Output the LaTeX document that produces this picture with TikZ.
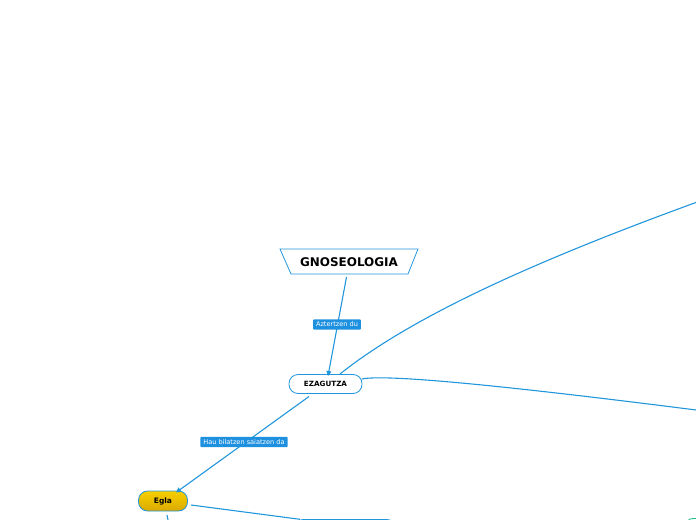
\documentclass[tikz,border=0pt]{standalone}
\usepackage{fontspec}
\setmainfont{DejaVu Sans}
\usetikzlibrary{arrows.meta,shapes.geometric}
\definecolor{lineblue}{HTML}{2196DC}
\definecolor{labelblue}{HTML}{1E90E0}
\definecolor{goldA}{HTML}{F7D000}
\definecolor{goldB}{HTML}{D9A900}
\tikzset{
  conn/.style={draw=lineblue, line width=1.1bp},
  tip/.style={-{Triangle[length=5bp,width=5bp]}},
  lbl/.style={fill=labelblue, text=white, font=\fontsize{6.6}{7}\selectfont, inner xsep=3bp, inner ysep=2.5bp, rounded corners=0.8bp},
  topic/.style={draw=lineblue, fill=white, rounded corners=9bp, line width=0.8bp, font=\bfseries\fontsize{7.2}{8}\selectfont, minimum width=73bp, minimum height=19bp, inner sep=0},
}
\begin{document}
\begin{tikzpicture}[x=1bp,y=-1bp]
\useasboundingbox (0,0) rectangle (696,520);
\clip (0,0) rectangle (696,520);
% root trapezoid
\draw[draw=lineblue, fill=white, line width=0.8bp] (280,249) -- (418,249) -- (408,274) -- (291,274) -- cycle;
\node[font=\bfseries\fontsize{12}{14}\selectfont] (root) at (349,262) {GNOSEOLOGIA};
\coordinate (rootb) at (346.5,277);
% EZAGUTZA
\node[topic] (ez) at (325.5,384) {EZAGUTZA};
\coordinate (ezin) at (328,376);
\coordinate (ezt) at (340,374);
\coordinate (ezr) at (362,379);
\coordinate (ezb) at (309,396.5);
% Egla
\node[draw=lineblue, line width=0.8bp, rounded corners=9bp, top color=goldA, bottom color=goldB, minimum width=49bp, minimum height=20bp, inner sep=0, font=\bfseries\fontsize{7.5}{8}\selectfont] (egla) at (163,501) {Egla};
\coordinate (eglain) at (176,492.5);
\coordinate (eglar) at (191,505);
\coordinate (eglab) at (167,515);
% cut-off nodes at bottom
\node[draw=lineblue, fill=white, rounded corners=8bp, line width=0.8bp, minimum width=100bp, minimum height=20bp] (b1) at (345,529.5) {};
\coordinate (b1in) at (300,519.3);
\node[draw=lineblue!60!green, fill=white, rounded corners=8bp, line width=0.8bp, minimum width=60bp, minimum height=20bp] (b2) at (715,528.5) {};
\node[draw=lineblue, fill=white, rounded corners=8bp, line width=0.8bp, minimum width=50bp, minimum height=20bp] (b3) at (170,540) {};
% off-canvas endpoints
\coordinate (e1) at (700,201);
\coordinate (e2) at (700,410.5);
% connectors
\draw[conn,tip] (rootb) -- (ezin);
\node[lbl] (l1) at (337,324.5) {Aztertzen du};
\draw[conn] (ezt) .. controls (420,310) and (560,252) .. (e1);
\draw[conn] (ezr) .. controls (385,374) and (500,385) .. (e2);
\draw[conn,tip] (ezb) -- (eglain);
\node[lbl] (l2) at (244,442) {Hau bilatzen saiatzen da};
\draw[conn] (eglar) -- (b1in);
\draw[conn] (eglab) -- (b3.north);
\end{tikzpicture}
\end{document}
